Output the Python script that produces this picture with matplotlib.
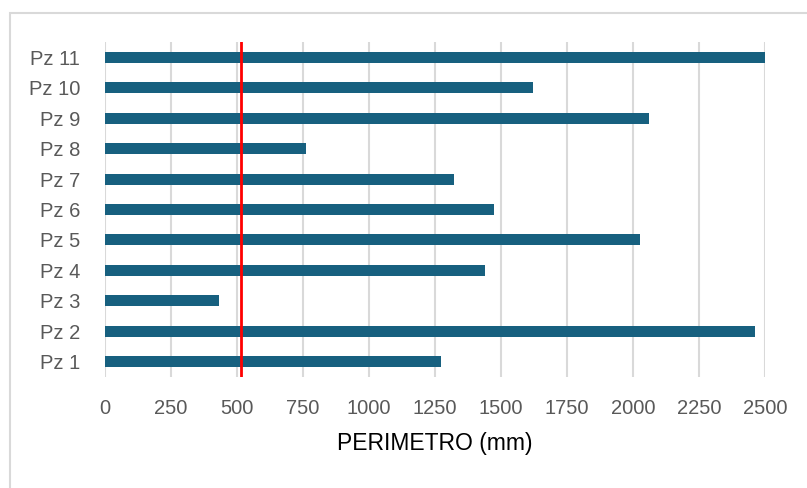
import matplotlib.pyplot as plt
from matplotlib.patches import Rectangle

plt.rcParams['font.family'] = ['Liberation Sans', 'DejaVu Sans']

pezzi     = ['Pz 1', 'Pz 2', 'Pz 3', 'Pz 4', 'Pz 5', 'Pz 6',
             'Pz 7', 'Pz 8', 'Pz 9', 'Pz 10', 'Pz 11']
perimetro = [1273, 2462, 432, 1439, 2027, 1472, 1323, 761, 2062, 1622, 2500]
soglia    = 515
xticks    = [0, 250, 500, 750, 1000, 1250, 1500, 1750, 2000, 2250, 2500]

fig = plt.figure(figsize=(8.07, 4.88), dpi=100)
ax = fig.add_axes([105/807, 1-377/488, 660/807, 335/488])

# cornice grigia attorno al grafico
fig.patches.append(Rectangle((10/807, -0.1), 1.0, 1-13/488+0.1,
                             transform=fig.transFigure, fill=False,
                             edgecolor='#d9d9d9', lw=1.5))

ax.barh(range(len(pezzi)), perimetro, height=0.36, color='#17607f', zorder=2)
ax.axvline(soglia, color='#ff0000', lw=2, zorder=3)

ax.set_xlim(0, 2500)
ax.set_ylim(-0.5, len(pezzi)-0.5)
ax.set_xticks(xticks)
ax.set_yticks(range(len(pezzi)))
ax.set_yticklabels(pezzi)
ax.grid(axis='x', color='#d9d9d9', lw=1.5, zorder=0)
ax.set_axisbelow(True)
for s in ax.spines.values():
    s.set_visible(False)
ax.tick_params(axis='both', length=0, labelsize=14.5, colors='#595959')
ax.tick_params(axis='y', pad=18)
ax.tick_params(axis='x', pad=16)
ax.set_xlabel('PERIMETRO (mm)', fontsize=16.5, color='black', labelpad=10)

fig.savefig('out.png', dpi=100)
